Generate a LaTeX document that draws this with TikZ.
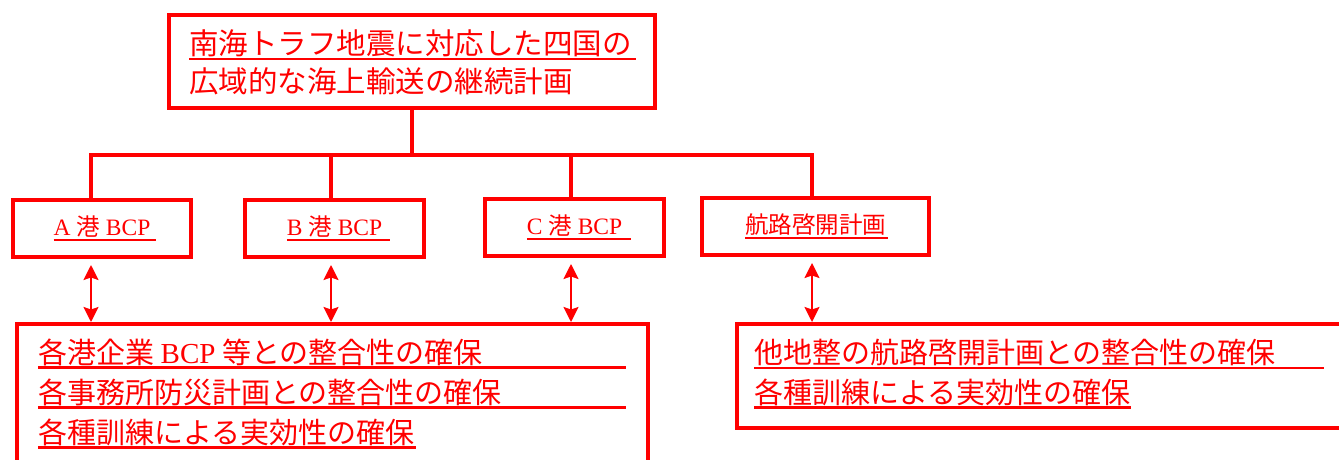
\documentclass[tikz,border=0pt]{standalone}
\usepackage{fontspec}
\setmainfont{Liberation Serif}
\newfontfamily\cjk{Noto Sans CJK JP}
\usetikzlibrary{arrows.meta}
% underline of fixed length under a line of text
\newcommand\ulfix[2]{\rlap{\rule[-5.8pt]{#1}{2.6pt}}#2}
\tikzset{
	frame/.style={draw=red,line width=4pt,inner sep=0pt},
	bigtext/.style={anchor=base west,inner sep=0pt,font=\cjk\fontsize{29}{35}\selectfont},
	tie/.style={draw=red,line width=4pt},
	dblarrow/.style={draw=red,line width=2pt,{Stealth[length=15pt,width=15pt,inset=2.5pt]}-{Stealth[length=15pt,width=15pt,inset=2.5pt]}}
}
\begin{document}
\begin{tikzpicture}[x=1pt,y=-1pt,red]
	\useasboundingbox (0,0) rectangle (1339,460);
	\clip (0,0) rectangle (1339,460);
	% top plan
	\node[frame,minimum width=486pt,minimum height=93pt] (plan) at (412,61.5) {};
	\node[bigtext,font=\cjk\fontsize{29.5}{35}\selectfont] (planL1) at (189,54.5) {\ulfix{447pt}{南海トラフ地震に対応した四国の}};
	\node[bigtext,font=\cjk\fontsize{29.5}{35}\selectfont] (planL2) at (189,92.5) {広域的な海上輸送の継続計画};
	% four sub plans
	\begin{scope}[every node/.style={frame,minimum height=57pt,font=\fontsize{23.5}{28}\selectfont}]
		\node[minimum width=178pt] (portA) at (102,228.5) {\ulfix{102pt}{A {\cjk 港} BCP}};
		\node[minimum width=179pt] (portB) at (334.5,228.5) {\ulfix{103pt}{B {\cjk 港} BCP}};
		\node[minimum width=179pt] (portC) at (574.5,227.5) {\ulfix{104pt}{C {\cjk 港} BCP}};
		\node[minimum width=227pt] (route) at (815.5,226.5) {\ulfix{143pt}{\cjk 航路啓開計画}};
	\end{scope}
	% goals
	\node[frame,anchor=north west,minimum width=631pt,minimum height=170pt] (goalsL) at (15,322) {};
	\node[frame,anchor=north west,minimum width=640pt,minimum height=104pt] (goalsR) at (735,322) {};
	\node[bigtext] (goalsL1) at (38,363) {\ulfix{588pt}{各港企業 {\rmfamily BCP} 等との整合性の確保}};
	\node[bigtext] (goalsL2) at (38,403) {\ulfix{588pt}{各事務所防災計画との整合性の確保}};
	\node[bigtext] (goalsL3) at (38,443) {\ulfix{378pt}{各種訓練による実効性の確保}};
	\node[bigtext] (goalsR1) at (754,363.5) {\ulfix{570pt}{他地整の航路啓開計画との整合性の確保}};
	\node[bigtext] (goalsR2) at (754,403) {\ulfix{377pt}{各種訓練による実効性の確保}};
	% tree
	\coordinate (cA) at (91,155);
	\coordinate (cB) at (331,155);
	\coordinate (cC) at (571,155);
	\coordinate (cR) at (812,155);
	\draw[tie] (plan.south) -- (plan.south |- cA);
	\draw[tie] (cA |- portA.north) -- (cA) -- (cR) -- (cR |- route.north);
	\draw[tie] (cB) -- (cB |- portB.north);
	\draw[tie] (cC) -- (cC |- portC.north);
	% links to goals
	\foreach \c/\p/\g in {cA/portA/goalsL,cB/portB/goalsL,cC/portC/goalsL,cR/route/goalsR}
		\draw[dblarrow,shorten <=6pt] (\c |- \p.south) -- (\c |- \g.north);
\end{tikzpicture}
\end{document}
